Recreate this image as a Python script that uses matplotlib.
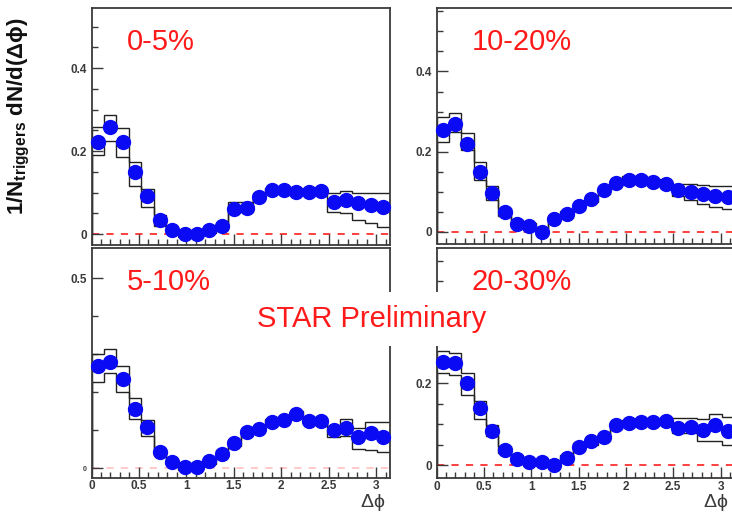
import numpy as np
import matplotlib
matplotlib.use('Agg')
import matplotlib.pyplot as plt
from matplotlib.ticker import MultipleLocator, FixedLocator

# 24 bins in delta phi between 0 and pi
edges = np.linspace(0, np.pi, 25)
centers = 0.5 * (edges[1:] + edges[:-1])

# 0-5%
y_0_5 = [0.222, 0.259, 0.222, 0.150, 0.092, 0.034, 0.010, 0.000, 0.000, 0.010, 0.019, 0.060,
         0.062, 0.090, 0.106, 0.106, 0.102, 0.102, 0.104, 0.078, 0.082, 0.074, 0.070, 0.066]
up_0_5 = [0.258, 0.288, 0.255, 0.174, 0.109, 0.046, 0.018, 0.008, 0.008, 0.018, 0.026, 0.076,
          0.078, 0.098, 0.112, 0.112, 0.108, 0.108, 0.110, 0.098, 0.104, 0.100, 0.098, 0.098]
lo_0_5 = [0.190, 0.225, 0.185, 0.116, 0.064, 0.020, 0.002, -0.008, -0.008, 0.002, 0.010, 0.052,
          0.054, 0.082, 0.098, 0.098, 0.096, 0.096, 0.098, 0.054, 0.050, 0.034, 0.026, 0.018]

# 10-20%
y_10_20 = [0.254, 0.269, 0.220, 0.150, 0.096, 0.049, 0.020, 0.015, 0.000, 0.032, 0.043, 0.063,
           0.081, 0.103, 0.121, 0.130, 0.130, 0.125, 0.118, 0.105, 0.100, 0.094, 0.088, 0.086]
up_10_20 = [0.286, 0.296, 0.246, 0.175, 0.114, 0.058, 0.028, 0.022, 0.008, 0.040, 0.051, 0.071,
            0.089, 0.111, 0.129, 0.138, 0.138, 0.132, 0.126, 0.120, 0.118, 0.116, 0.115, 0.115]
lo_10_20 = [0.225, 0.248, 0.204, 0.129, 0.079, 0.040, 0.012, 0.008, -0.008, 0.024, 0.035, 0.055,
            0.073, 0.095, 0.113, 0.122, 0.122, 0.116, 0.108, 0.088, 0.080, 0.070, 0.062, 0.057]

# 5-10%
y_5_10 = [0.269, 0.281, 0.236, 0.157, 0.109, 0.044, 0.017, 0.004, 0.003, 0.020, 0.039, 0.066,
          0.096, 0.103, 0.123, 0.128, 0.143, 0.124, 0.125, 0.101, 0.106, 0.083, 0.093, 0.083]
up_5_10 = [0.301, 0.313, 0.269, 0.184, 0.127, 0.052, 0.025, 0.012, 0.011, 0.028, 0.047, 0.074,
           0.104, 0.111, 0.131, 0.136, 0.151, 0.132, 0.133, 0.112, 0.130, 0.105, 0.122, 0.122]
lo_5_10 = [0.228, 0.250, 0.200, 0.129, 0.085, 0.036, 0.009, -0.004, -0.005, 0.012, 0.031, 0.058,
           0.088, 0.095, 0.115, 0.120, 0.135, 0.116, 0.117, 0.082, 0.085, 0.052, 0.048, 0.044]

# 20-30%
y_20_30 = [0.253, 0.249, 0.200, 0.139, 0.084, 0.038, 0.014, 0.007, 0.007, 0.000, 0.016, 0.045,
           0.058, 0.068, 0.097, 0.103, 0.105, 0.105, 0.107, 0.091, 0.094, 0.086, 0.097, 0.083]
up_20_30 = [0.280, 0.274, 0.226, 0.158, 0.098, 0.046, 0.022, 0.015, 0.015, 0.008, 0.024, 0.053,
            0.066, 0.076, 0.105, 0.111, 0.113, 0.113, 0.115, 0.116, 0.116, 0.113, 0.126, 0.117]
lo_20_30 = [0.226, 0.220, 0.172, 0.114, 0.071, 0.030, 0.006, -0.001, -0.001, -0.008, 0.008, 0.037,
            0.050, 0.060, 0.089, 0.095, 0.097, 0.097, 0.099, 0.078, 0.078, 0.058, 0.060, 0.050]

dphi_ticks = [0, 0.5, 1, 1.5, 2, 2.5, 3]
dphi_labels = ['0', '0.5', '1', '1.5', '2', '2.5', '3']

W, H = 732, 512
RED = '#ff1a1a'
AXC = '#3a3a3a'


def px_axes(fig, x0, x1, ytop, ybot):
    return fig.add_axes([x0 / W, 1 - ybot / H, (x1 - x0) / W, (ybot - ytop) / H])


def panel(ax, y, up, lo, ylim, label, zero_alpha=0.9):
    ax.stairs(up, edges, color='#222222', lw=1.0, zorder=2)
    ax.stairs(lo, edges, color='#222222', lw=1.0, zorder=2)
    ax.axhline(0, color=RED, lw=1.3, ls=(0, (4, 4)), alpha=zero_alpha, zorder=1)
    ax.plot(centers, y, 'o', color='#0a0af5', ms=10, mec='#0a0af5', zorder=3, clip_on=False)
    ax.set_xlim(0, np.pi)
    ax.set_ylim(*ylim)
    ax.set_xticks(dphi_ticks)
    ax.xaxis.set_minor_locator(MultipleLocator(0.1))
    ax.tick_params(which='both', direction='in', colors=AXC, labelsize=8.5,
                   top=False, right=False, width=1.0)
    ax.tick_params(which='major', length=8)
    ax.tick_params(which='minor', length=4)
    for s in ax.spines.values():
        s.set_color(AXC)
        s.set_linewidth(1.3)
    ax.text(0.118, 0.915, label, transform=ax.transAxes, color=RED, fontsize=21,
            ha='left', va='top')


def yticks(ax, major, minor, labels):
    ax.yaxis.set_major_locator(FixedLocator(major))
    ax.yaxis.set_minor_locator(MultipleLocator(minor))
    ax.set_yticklabels(labels, fontweight='bold')


plt.rcParams['font.family'] = ['Liberation Sans', 'DejaVu Sans']
plt.rcParams['mathtext.default'] = 'regular'

fig = plt.figure(figsize=(W / 100, H / 100), dpi=100)

ax_tl = px_axes(fig, 91.5, 389.5, 8, 245)
panel(ax_tl, y_0_5, up_0_5, lo_0_5, (-0.0265, 0.545), '0-5%')
yticks(ax_tl, [0, 0.2, 0.4], 0.05, ['0', '0.2', '0.4'])
ax_tl.set_xticklabels([])

ax_tr = px_axes(fig, 436.5, 734, 8, 243.5)
panel(ax_tr, y_10_20, up_10_20, lo_10_20, (-0.0295, 0.5585), '10-20%')
yticks(ax_tr, [0, 0.2, 0.4], 0.05, ['0', '0.2', '0.4'])
ax_tr.set_xticklabels([])

ax_bl = px_axes(fig, 91.5, 389.5, 248, 477.7)
panel(ax_bl, y_5_10, up_5_10, lo_5_10, (-0.0247, 0.58), '5-10%', zero_alpha=0.25)
yticks(ax_bl, [0, 0.5], 0.1, ['0', '0.5'])
ax_bl.get_yticklabels()[0].set_fontsize(5)

ax_br = px_axes(fig, 436.5, 734, 248, 478.3)
panel(ax_br, y_20_30, up_20_30, lo_20_30, (-0.0326, 0.532), '20-30%')
# the 0.4 label sits under the "STAR Preliminary" patch, leave it off
yticks(ax_br, [0, 0.2, 0.4], 0.05, ['0', '0.2', ''])

for ax in (ax_bl, ax_br):
    ax.set_xticklabels(dphi_labels, fontweight='bold')
    ax.tick_params(axis='x', pad=2)

fig.text(19 / W, 1 - 116 / H, r'1/N$_{triggers}$ dN/d($\Delta\phi$)', rotation=90,
         ha='center', va='center', fontsize=16, fontweight='bold', color='#111111')
fig.text(373 / W, 1 - 492 / H, r'$\Delta\phi$', ha='center', va='top',
         fontsize=14, color=AXC)
fig.text(716 / W, 1 - 492 / H, r'$\Delta\phi$', ha='center', va='top',
         fontsize=14, color=AXC)

fig.text(372 / W, 1 - 319 / H, 'STAR Preliminary', ha='center', va='center',
         fontsize=21, color=RED,
         bbox=dict(boxstyle='square,pad=0.45', fc='white', ec='none'))

fig.savefig('out.png', dpi=100)
